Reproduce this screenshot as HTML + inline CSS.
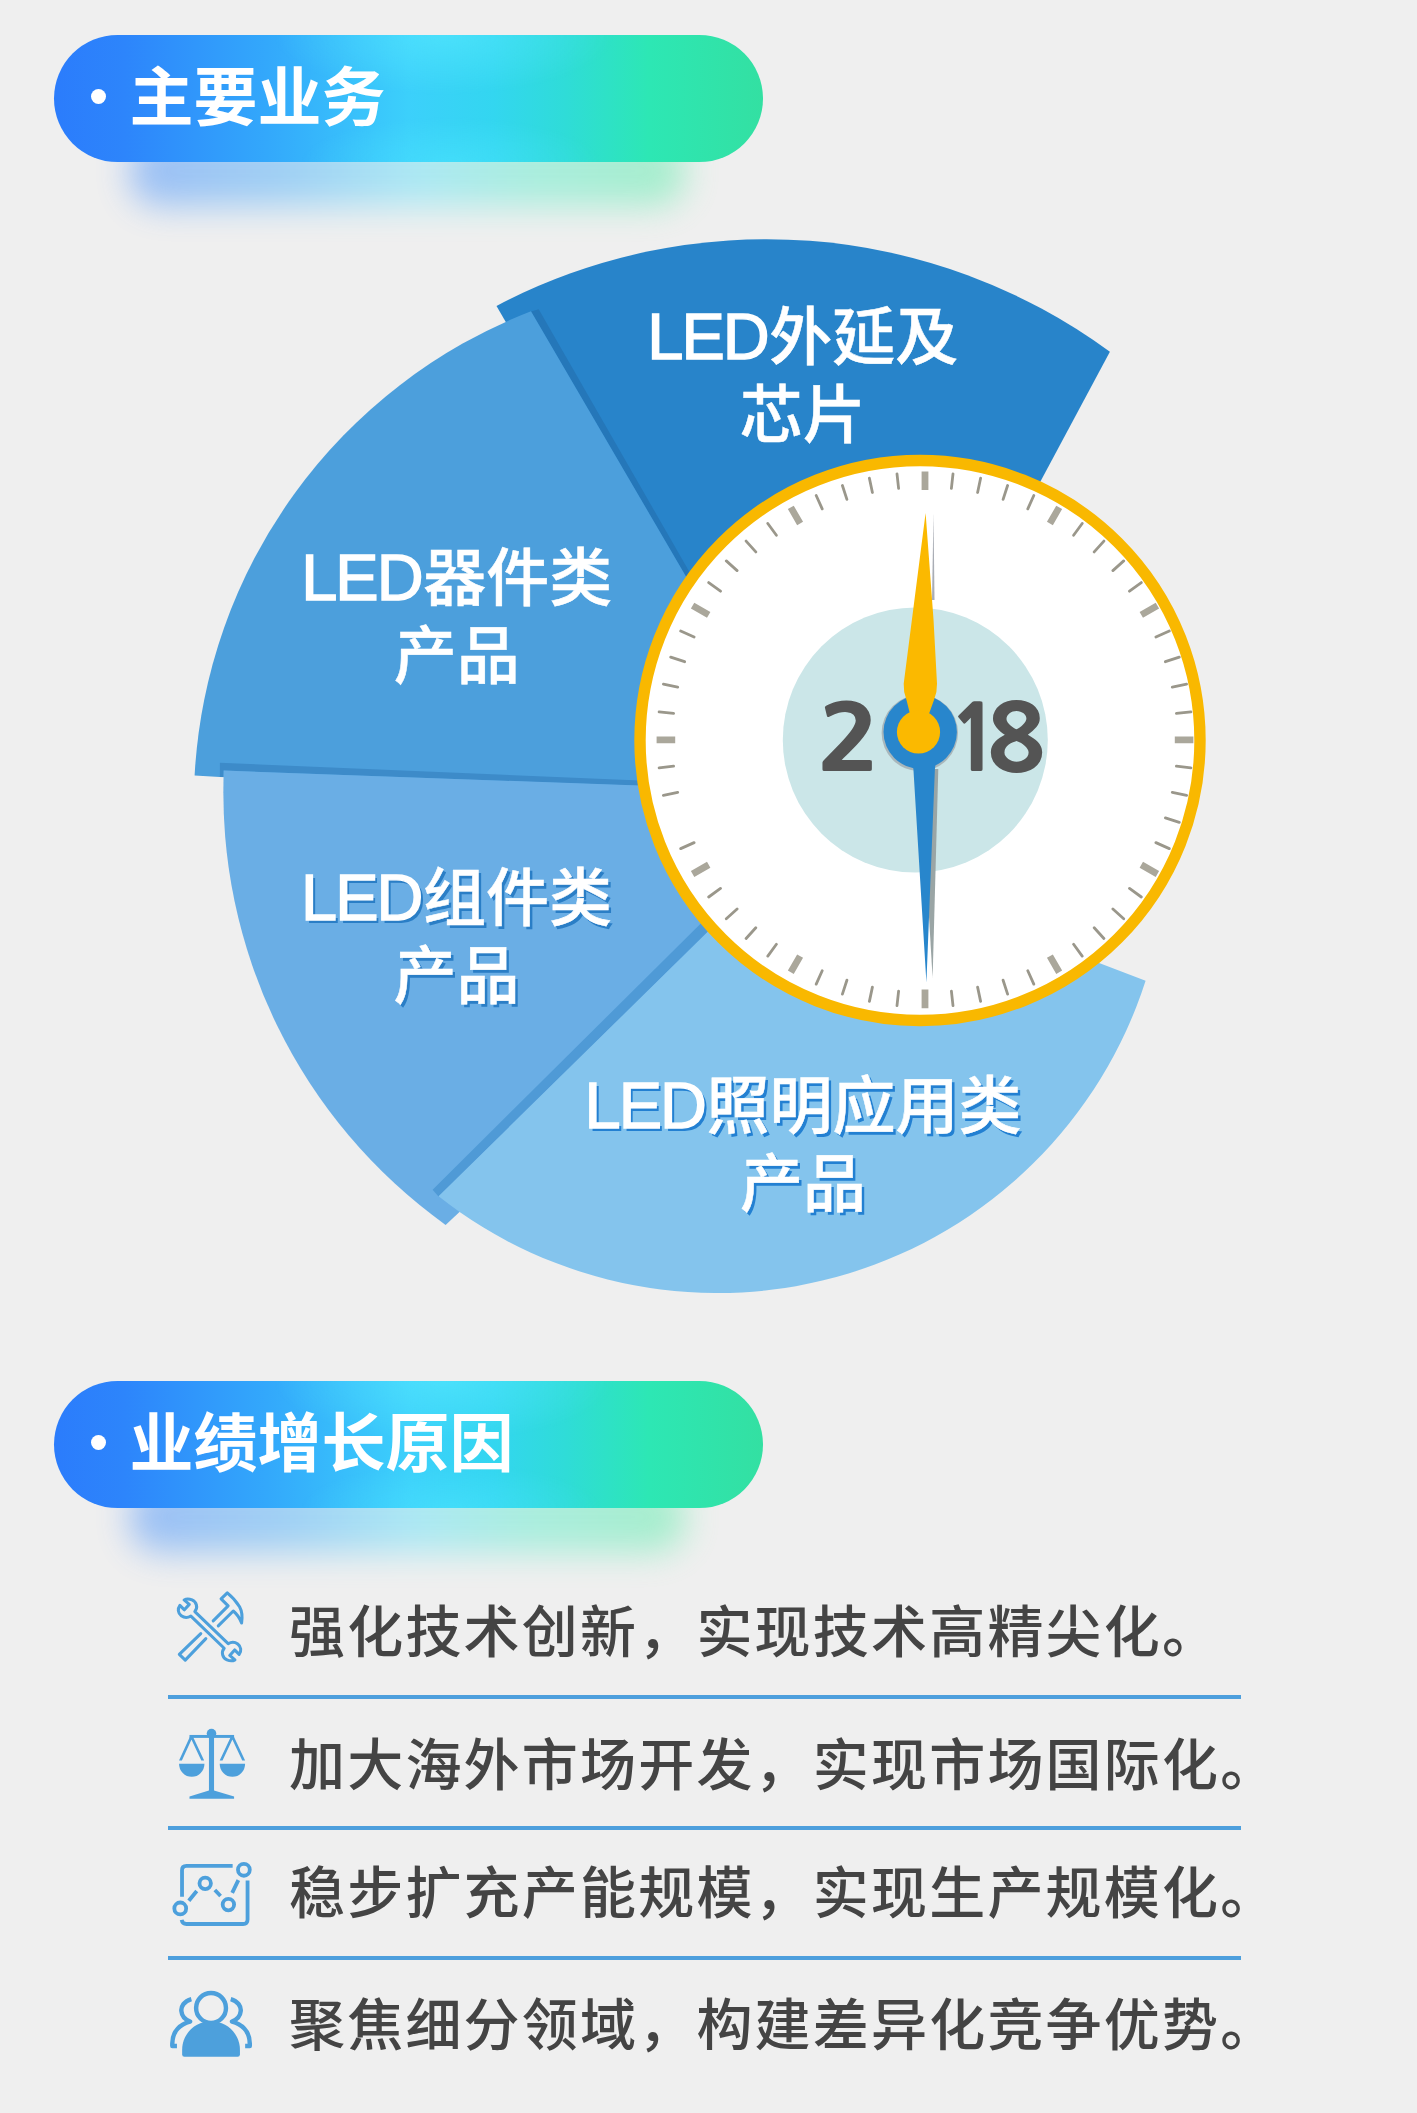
<!DOCTYPE html>
<html lang="zh-CN">
<head>
<meta charset="utf-8">
<title>主要业务</title>
<style>
html,body{margin:0;padding:0;}
body{width:1417px;height:2113px;background:#efefef;position:relative;overflow:hidden;font-family:"Liberation Sans","Noto Sans CJK SC",sans-serif;}
.pill{position:absolute;left:54px;width:709px;height:127px;border-radius:64px;background:linear-gradient(90deg,#2b7cfc 0%,#2d85fb 10%,#33a8fb 30%,#3cd0fb 50%,#33d6f0 62%,#2fdcd8 72%,#2de7b4 84%,#33e0a2 100%);}
.pill::after{content:"";position:absolute;left:0;top:0;right:0;bottom:0;border-radius:64px;background:radial-gradient(ellipse 170px 60px at 55% 0%,rgba(90,235,255,.55),rgba(90,235,255,0)),radial-gradient(ellipse 150px 45px at 56% 100%,rgba(80,232,255,.45),rgba(80,232,255,0));}
.pshadow{position:absolute;left:130px;width:555px;height:70px;border-radius:30px;filter:blur(17px);opacity:.44;background:linear-gradient(90deg,#2f7ffc 0%,#3aa8fb 28%,#55e0fa 52%,#50ecc8 72%,#48ec9c 100%);}
.ptxt{position:absolute;left:129.6px;color:#fff;font-weight:700;font-size:64px;line-height:70px;white-space:nowrap;}
.dot{position:absolute;left:90.6px;width:15px;height:15px;border-radius:50%;background:#fff;}
.lab{position:absolute;color:#fff;font-size:63px;font-weight:500;line-height:78px;-webkit-text-stroke:0.5px #fff;text-align:center;white-space:nowrap;transform:translateX(-50%);}
.sh{text-shadow:2.7px 2.5px 0 #2a7ec6;}
.sh2{text-shadow:2.7px 2.5px 0 #2380d2;}
.en{font-size:65px;letter-spacing:-2px;-webkit-text-stroke:1.4px #fff;margin-right:1.5px;}
.row{position:absolute;left:289px;color:#444;font-weight:500;font-size:56px;line-height:70px;letter-spacing:2.2px;white-space:nowrap;}
.hr{position:absolute;left:168px;width:1073px;height:4px;background:#4d9fdd;}
.yr{position:absolute;color:#545454;font-family:NanumGothic,"Liberation Sans",sans-serif;font-weight:800;font-size:90px;line-height:100px;transform-origin:0 50%;}
svg{position:absolute;left:0;top:0;}
</style>
</head>
<body>
<div class="pshadow" style="top:136px"></div>
<div class="pill" style="top:35px"></div>
<div class="dot" style="top:88.8px"></div>
<div class="ptxt" style="top:62.5px">主要业务</div>

<div class="pshadow" style="top:1482px"></div>
<div class="pill" style="top:1381px"></div>
<div class="dot" style="top:1434.8px"></div>
<div class="ptxt" style="top:1408.5px">业绩增长原因</div>

<svg width="1417" height="2113" viewBox="0 0 1417 2113">
<path d="M496.5 305.9 A580.1 580.1 0 0 1 1109.9 351.8 L902 740 L747 740 Z" fill="#2884ca"/>
<path d="M530.9 311.5 L538.7 309.3 L788.8 745 L784.4 745 Z" fill="#2577b9"/>
<path d="M531.0 311.2 A528.8 528.8 0 0 0 194.6 775.5 L219.9 776.9 L760 800 L784.4 745 Z" fill="#4c9fdc"/>
<path d="M219.9 762.8 L760 785.5 L760 790 L223.4 770.6 L223.4 777 L219.9 776.9 Z" fill="#3d8bc9"/>
<path d="M223.8 770.6 A531.7 531.7 0 0 0 445.6 1224.9 L458.7 1212.7 L800 870 L800 791.4 Z" fill="#6aaee5"/>
<path d="M432.6 1189.7 L438.5 1196.4 L800 841.2 L800 824.9 Z" fill="#4f9ad6"/>
<path d="M438.6 1196.3 A449.8 449.8 0 0 0 1145.6 980.7 L900 887 L800 841.2 Z" fill="#84c4ed"/>
<circle cx="920.0" cy="740.5" r="280" fill="#fff" stroke="#f9b800" stroke-width="11.4"/>
<circle cx="915.3" cy="740" r="132.5" fill="#cbe6e8"/>
<path d="M925.0 490.0L925.0 471.4M1049.9 523.5L1059.2 507.4M1141.3 614.9L1157.4 605.6M1174.8 739.8L1193.4 739.8M1141.3 864.7L1157.4 874.0M1049.9 956.1L1059.2 972.2M925.0 989.6L925.0 1008.2M800.1 956.1L790.8 972.2M708.7 864.7L692.6 874.0M675.2 739.8L656.6 739.8M708.7 614.9L692.6 605.6M800.1 523.5L790.8 507.4" stroke="#aaa79b" stroke-width="6.8" fill="none"/>
<path d="M951.4 488.4L953.0 473.9M977.6 492.5L980.6 478.2M1003.1 499.4L1007.6 485.5M1027.8 508.9L1033.8 495.5M1073.6 535.3L1082.2 523.5M1094.2 551.9L1103.9 541.1M1112.9 570.6L1123.7 560.9M1129.5 591.2L1141.3 582.6M1155.9 637.0L1169.3 631.0M1165.4 661.7L1179.3 657.2M1172.3 687.2L1186.6 684.2M1176.4 713.4L1190.9 711.8M1176.4 766.2L1190.9 767.8M1172.3 792.4L1186.6 795.4M1165.4 817.9L1179.3 822.4M1155.9 842.6L1169.3 848.6M1129.5 888.4L1141.3 897.0M1112.9 909.0L1123.7 918.7M1094.2 927.7L1103.9 938.5M1073.6 944.3L1082.2 956.1M1027.8 970.7L1033.8 984.1M1003.1 980.2L1007.6 994.1M977.6 987.1L980.6 1001.4M951.4 991.2L953.0 1005.7M898.6 991.2L897.0 1005.7M872.4 987.1L869.4 1001.4M846.9 980.2L842.4 994.1M822.2 970.7L816.2 984.1M776.4 944.3L767.8 956.1M755.8 927.7L746.1 938.5M737.1 909.0L726.3 918.7M720.5 888.4L708.7 897.0M694.1 842.6L680.7 848.6M677.7 792.4L663.4 795.4M673.6 766.2L659.1 767.8M673.6 713.4L659.1 711.8M677.7 687.2L663.4 684.2M684.6 661.7L670.7 657.2M694.1 637.0L680.7 631.0M720.5 591.2L708.7 582.6M737.1 570.6L726.3 560.9M755.8 551.9L746.1 541.1M776.4 535.3L767.8 523.5M822.2 508.9L816.2 495.5M846.9 499.4L842.4 485.5M872.4 492.5L869.4 478.2M898.6 488.4L897.0 473.9" stroke="#9a978b" stroke-width="2.8" stroke-linecap="round" fill="none"/>
<path d="M938.3 769 L932.6 978 L928 900 L934 769 Z" fill="#9aa5a5"/>
<path d="M933.5 513 L934.5 600 L932 600 Z" fill="#a9adb5"/>
<circle cx="919.8" cy="733" r="38.2" fill="#a9b7bb"/>
<circle cx="920.2" cy="732" r="36.7" fill="#2886cc"/>
<path d="M911 760 L913.4 769.1 L926.4 982.5 L934.9 769.1 L936 760 Z" fill="#2886cc"/>
<path d="M925.6 512.9 L933.5 619.2 L937 683.8 Q937.3 692 934 700 L926 722 L912 722 L906.5 700 Q903.3 692 903.7 683.8 Z" fill="#fbb900"/>
<circle cx="918.5" cy="732" r="21.6" fill="#fbb900"/>
<g transform="translate(170 1585) scale(0.05646)" fill="none" stroke="#4da0dc" stroke-width="54" stroke-linejoin="round" stroke-linecap="round">
<path d="M765 635 L1030 370 L905 245 L1015 140 Q1150 250 1232 385 Q1295 500 1268 672 Q1215 535 1120 460 L855 725"/>
<path d="M545 860 L165 1230 L270 1330 L635 950"/>
<path d="M440 470 C500 400 470 300 390 265 C340 243 285 245 250 265 L342 343 L255 440 L175 360 C130 420 140 500 200 545 C255 585 320 580 370 550 L960 1120 C900 1190 930 1290 1010 1325 C1060 1347 1115 1345 1150 1325 L1058 1247 L1145 1150 L1225 1230 C1270 1170 1260 1090 1200 1045 C1145 1005 1080 1010 1030 1040 Z"/>
</g>
<g transform="translate(170 1720) scale(0.05646)" fill="#4da0dc" stroke="none">
<circle cx="735" cy="240" r="85"/>
<rect x="345" y="265" width="790" height="52"/>
<rect x="690" y="240" width="90" height="1030"/>
<path d="M690 1250 L780 1250 L1135 1355 L1135 1395 L345 1395 L345 1355 Z"/>
<path d="M160 775 L610 775 A225 232 0 0 1 160 775 Z"/>
<path d="M880 775 L1330 775 A225 232 0 0 1 880 775 Z"/>
<path d="M354.6 292 L405.4 292 L210.4 717 L159.6 717 ZM354.6 292 L405.4 292 L605.4 717 L554.6 717 ZM1079.6 292 L1130.4 292 L930.4 717 L879.6 717 ZM1079.6 292 L1130.4 292 L1330.4 717 L1279.6 717 Z"/>
</g>
<g transform="translate(165 1850) scale(0.06351)" fill="none" stroke="#4da0dc" stroke-width="60">
<path d="M1065 250 L338 250 Q268 250 268 320 L268 738 M1300 480 L1300 1095 Q1300 1165 1230 1165 L338 1165 Q275 1165 262 1100"/>
<circle cx="240" cy="920" r="93"/><circle cx="633" cy="525" r="90"/><circle cx="998" cy="860" r="90"/><circle cx="1242" cy="312" r="93"/>
<path d="M375 800 L500 645 M785 630 L875 725 M1058 675 L1155 475"/>
</g>
<g transform="translate(165 1980) scale(0.06351)" fill="none" stroke="#4da0dc" stroke-width="70" stroke-linejoin="round">
<circle cx="725" cy="440" r="235"/>
<path d="M270 1175 L270 1100 C270 850 470 650 725 650 C980 650 1180 850 1180 1100 L1180 1175 Q1180 1210 1145 1210 L305 1210 Q270 1210 270 1175 Z" fill="#4da0dc" stroke="none"/>
<path d="M415 300 C300 330 250 420 258 490 C265 570 320 625 395 655 C250 690 115 800 115 1000 L115 1038 L188 1038"/>
<path d="M1035 300 C1150 330 1200 420 1192 490 C1185 570 1130 625 1055 655 C1200 690 1335 800 1335 1000 L1335 1038 L1262 1038"/>
</g>

</svg>

<div class="yr" style="left:817.4px;top:689.3px;transform:scaleX(1.17)">2</div>
<div class="yr" style="left:948.8px;top:689.3px;transform:scaleX(0.95)">1</div>
<div class="yr" style="left:986.6px;top:689.3px;transform:scaleX(1.07)">8</div>

<div class="lab" style="left:802.8px;top:297.5px"><span class="en">LED</span>外延及<br>芯片</div>
<div class="lab" style="left:456.7px;top:539px"><span class="en">LED</span>器件类<br>产品</div>
<div class="lab sh" style="left:456.5px;top:859px"><span class="en">LED</span>组件类<br>产品</div>
<div class="lab sh2" style="left:803px;top:1067px"><span class="en">LED</span>照明应用类<br>产品</div>

<div class="row" style="top:1598px">强化技术创新，实现技术高精尖化。</div>
<div class="hr" style="top:1695px"></div>
<div class="row" style="top:1731px">加大海外市场开发，实现市场国际化。</div>
<div class="hr" style="top:1826px"></div>
<div class="row" style="top:1859px">稳步扩充产能规模，实现生产规模化。</div>
<div class="hr" style="top:1956px"></div>
<div class="row" style="top:1991px">聚焦细分领域，构建差异化竞争优势。</div>
</body>
</html>
